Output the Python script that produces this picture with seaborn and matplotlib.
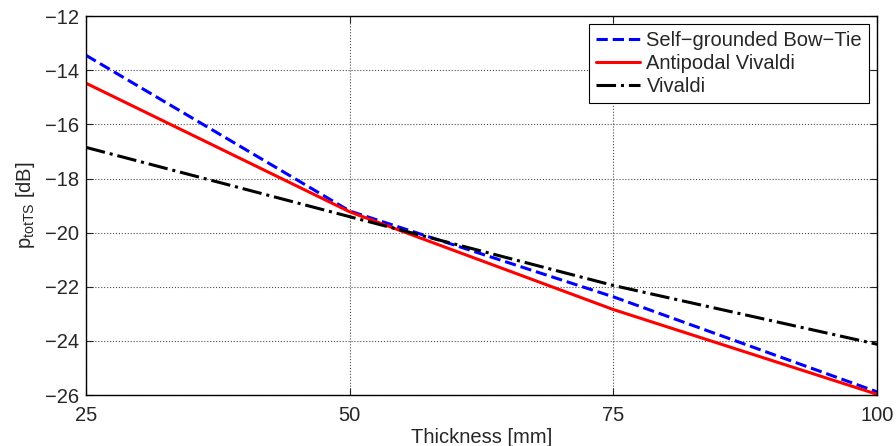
import matplotlib
matplotlib.use('Agg')
import matplotlib.pyplot as plt
import seaborn as sns
import pandas as pd

thickness = [25, 50, 75, 100]
bowtie = [-13.45, -19.2, -22.37, -25.88]
antipodal = [-14.48, -19.23, -22.84, -25.97]
vivaldi = [-16.85, -19.41, -21.95, -24.12]

labels = ['Self\u2212grounded Bow\u2212Tie', 'Antipodal Vivaldi', 'Vivaldi']
colors = ['#0000ff', '#ff0000', '#000000']
styles = ['--', '-', '-.']

sns.set_style('ticks')
plt.rcParams['font.family'] = ['Liberation Sans', 'DejaVu Sans']
plt.rcParams['mathtext.default'] = 'regular'

df = pd.DataFrame({'thickness': thickness * 3,
                   'value': bowtie + antipodal + vivaldi,
                   'series': [labels[0]] * 4 + [labels[1]] * 4 + [labels[2]] * 4})

fig = plt.figure(figsize=(8.96, 4.46), dpi=100)
ax = fig.add_axes([0.096, 0.114, 0.883, 0.85])

for lab, c, ls in zip(labels, colors, styles):
    sns.lineplot(data=df[df['series'] == lab], x='thickness', y='value',
                 color=c, linestyle=ls, linewidth=2.2, label=lab, ax=ax)

ax.set_xlim(25, 100)
ax.set_ylim(-26, -12)
ax.set_xticks([25, 50, 75, 100])
ax.set_yticks(range(-26, -11, 2))
ax.grid(True, linestyle=':', color='black', linewidth=0.8, alpha=0.7)
ax.tick_params(direction='in', top=True, right=True, labelsize=14.5, length=5)
ax.tick_params(axis='x', pad=8)
ax.tick_params(axis='y', pad=5)
for s in ax.spines.values():
    s.set_linewidth(1.0)
    s.set_color('black')
ax.set_xlabel('Thickness [mm]', fontsize=14.5, labelpad=2)
ax.set_ylabel('p$_{totTS}$ [dB]', fontsize=14.5, labelpad=6)

leg = ax.legend(loc='upper right', fontsize=14.5, frameon=True, fancybox=False,
                handlelength=2.2, handletextpad=0.3, borderpad=0.35,
                labelspacing=0.2, borderaxespad=0.4)
leg.get_frame().set_edgecolor('black')
leg.get_frame().set_linewidth(0.8)
leg.get_frame().set_alpha(1)

fig.savefig('out.png', dpi=100)
plt.close()
